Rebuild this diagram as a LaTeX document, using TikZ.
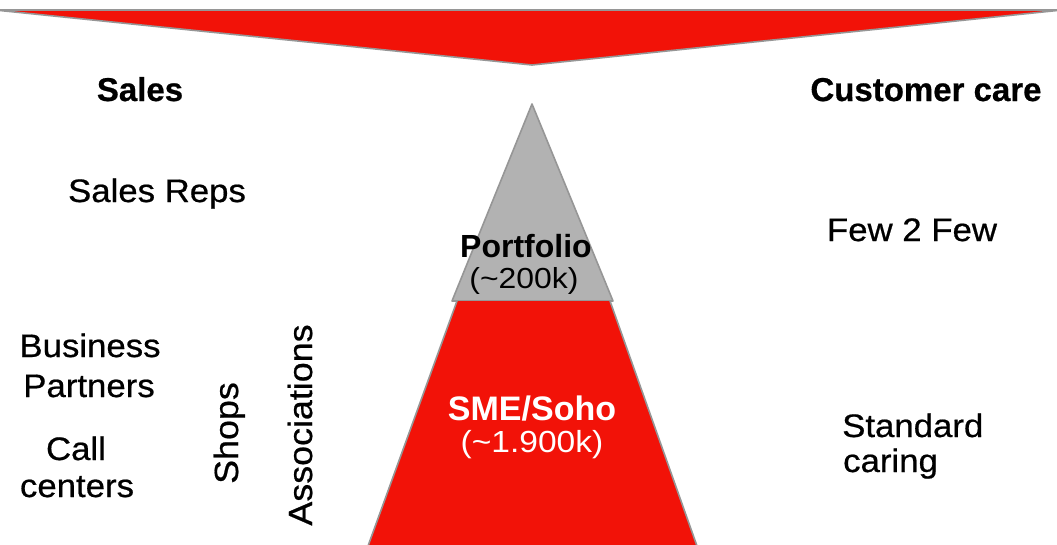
\documentclass[tikz,border=0pt]{standalone}
\usepackage{fontspec}
\setmainfont{Liberation Sans}
% slightly heavier and wider faces for the labels
\newfontface\medfont{Liberation Sans}[FakeBold=0.6, FakeStretch=1.07]
\newfontface\widefont{Liberation Sans}[FakeStretch=1.1]
\newfontface\heavyfont{Liberation Sans Bold}[FakeBold=0.6]
\definecolor{vred}{RGB}{242,18,8}
\definecolor{pgray}{RGB}{178,178,178}
\definecolor{edgegray}{RGB}{150,150,150}

\begin{document}
\begin{tikzpicture}[x=1pt,y=-1pt,
  txt/.style={inner sep=0pt, anchor=base},
  heading/.style={txt, font=\fontsize{33}{38}\heavyfont},
  body/.style={txt, font=\fontsize{32.5}{38}\medfont},
  tier/.style={txt, font=\fontsize{33}{38}\selectfont\bfseries},
  count/.style={txt, font=\fontsize{29}{32}\widefont},
  shape edge/.style={draw=edgegray, line width=1.6pt, line join=round}]
\clip (0,0) rectangle (1057,544);
\fill[white] (0,0) rectangle (1057,544);

% funnel banner across the top
\filldraw[fill=vred, shape edge] (-5,10) -- (1062,10) -- (532,65) -- cycle;

% pyramid: grey tip and red base
\filldraw[fill=pgray, shape edge] (532,104) -- (613,301) -- (452,301) -- cycle;
\fill[vred] (457,301) -- (610,301) -- (697,546) -- (368,546) -- cycle;
\draw[shape edge] (457,301) -- (368,546);
\draw[shape edge] (610,301) -- (697,546);

% column headings
\node[heading] (sales) at (140,101) {Sales};
\node[heading] (care) at (926,101) {Customer care};

% sales channels
\node[body] (reps) at (157,202) {Sales Reps};
\node[body] (business) at (90,357) {Business};
\node[body] (partners) at (89,397) {Partners};
\node[body] (call) at (76,460) {Call};
\node[body] (centers) at (77,497) {centers};
\node[body, rotate=90, font=\fontsize{33.5}{38}\medfont] (shops) at (238,433) {Shops};
\node[body, rotate=90, font=\fontsize{33.5}{38}\medfont] (assoc) at (312,425) {Associations};

% customer care levels
\node[body, anchor=base west] (standard) at (842,437) {Standard};
\node[body, anchor=base west] (caring) at (843,472) {caring};
\node[body] (few) at (912,241) {Few 2 Few};

% segment labels inside the pyramid
\node[tier, font=\fontsize{32}{38}\selectfont\bfseries] (portfolio) at (526,257) {Portfolio};
\node[count] (portcount) at (524,288) {(\char"7E 200k)};
\node[tier, text=white, font=\fontsize{34}{38}\selectfont\bfseries] (sme) at (532,420) {SME/Soho};
\node[count, text=white, font=\fontsize{30.5}{34}\widefont] (smecount) at (532,452) {(\char"7E 1.900k)};
\end{tikzpicture}
\end{document}
